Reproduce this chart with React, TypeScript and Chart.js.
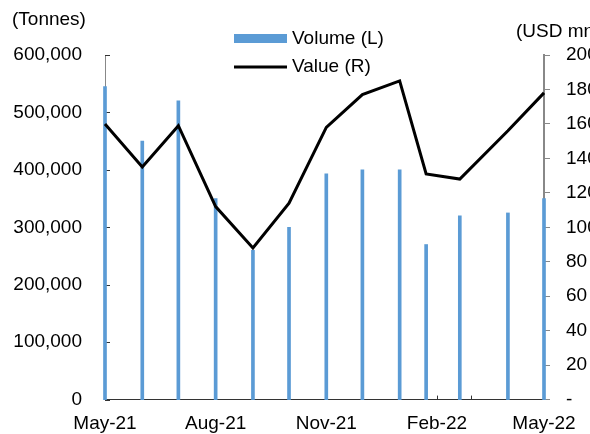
import React, { useEffect, useRef } from 'react';
import { Chart, registerables } from 'chart.js';

Chart.register(...registerables);

// ---- Data ----
const dates = [
  '2021-05-01', '2021-06-01', '2021-07-01', '2021-08-01', '2021-09-01', '2021-10-01',
  '2021-11-01', '2021-12-01', '2022-01-01', '2022-01-23', '2022-02-20', '2022-04-01', '2022-05-01',
];
const volume = [545000, 450000, 520000, 350000, 260000, 300000, 393000, 400000, 400000, 270000, 320000, 325000, 350000];
const value = [160, 135, 159, 112, 88, 114, 158, 177, 185, 131, 128, 156, 178];

const tickDates = ['2021-05-01', '2021-08-01', '2021-11-01', '2022-02-01', '2022-05-01'];
const tickLabels = ['May-21', 'Aug-21', 'Nov-21', 'Feb-22', 'May-22'];
const monthStarts = [
  '2021-05-01', '2021-06-01', '2021-07-01', '2021-08-01', '2021-09-01', '2021-10-01', '2021-11-01',
  '2021-12-01', '2022-01-01', '2022-02-01', '2022-03-01', '2022-04-01', '2022-05-01',
];
const leftTicks = [0, 100000, 200000, 300000, 400000, 500000, 600000];
const rightTicks = [0, 20, 40, 60, 80, 100, 120, 140, 160, 180, 200];

const seriesNames = ['Volume (L)', 'Value (R)'];
const leftTitle = '(Tonnes)';
const rightTitle = '(USD mn)';

const ORIGIN = Date.UTC(2021, 4, 1);
const dayOf = (s: string) => (Date.parse(s + 'T00:00:00Z') - ORIGIN) / 86400000;

const FONT_FAMILY = '"Liberation Sans", Arial, sans-serif';
const FONT_SIZE = 19;
const BLUE = '#5B9BD5';

const extrasPlugin = {
  id: 'extras',
  beforeDatasetsDraw(chart: any) {
    const ctx = chart.ctx;
    const x = chart.scales.x;
    const y = chart.scales.y;
    ctx.save();
    ctx.strokeStyle = '#333';
    ctx.lineWidth = 1;
    monthStarts.forEach((d) => {
      const px = Math.round(x.getPixelForValue(dayOf(d))) + 0.5;
      ctx.beginPath();
      ctx.moveTo(px, y.bottom);
      ctx.lineTo(px, y.bottom - 4);
      ctx.stroke();
    });
    leftTicks.forEach((v) => {
      const py = Math.round(y.getPixelForValue(v)) + 0.5;
      ctx.beginPath();
      ctx.moveTo(x.left, py);
      ctx.lineTo(x.left + 5, py);
      ctx.stroke();
    });
    ctx.restore();
  },
  afterDraw(chart: any) {
    const ctx = chart.ctx;
    ctx.save();
    ctx.font = `${FONT_SIZE}px ${FONT_FAMILY}`;
    ctx.fillStyle = '#000';
    ctx.textBaseline = 'middle';
    ctx.textAlign = 'left';
    ctx.fillText(leftTitle, 12, 20);
    ctx.fillText(rightTitle, 516, 32);

    const ds = chart.data.datasets;
    ctx.fillStyle = ds[0].backgroundColor;
    ctx.fillRect(234, 34, 53, 9);
    ctx.strokeStyle = ds[1].borderColor;
    ctx.lineWidth = 3;
    ctx.beginPath();
    ctx.moveTo(234, 67);
    ctx.lineTo(287, 67);
    ctx.stroke();
    ctx.fillStyle = '#000';
    ctx.fillText(ds[0].label, 292, 39);
    ctx.fillText(ds[1].label, 292, 67);
    ctx.restore();
  },
};

export default function App() {
  const ref = useRef<HTMLCanvasElement | null>(null);

  useEffect(() => {
    if (!ref.current) return;
    const font = { family: FONT_FAMILY, size: FONT_SIZE };
    const chart = new Chart(ref.current, {
      type: 'bar',
      data: {
        datasets: [
          {
            type: 'bar',
            label: seriesNames[0],
            data: dates.map((d, i) => ({ x: dayOf(d), y: volume[i] })),
            backgroundColor: BLUE,
            barThickness: 3,
            yAxisID: 'y',
            order: 2,
            clip: false,
          } as any,
          {
            type: 'line',
            label: seriesNames[1],
            data: dates.map((d, i) => ({ x: dayOf(d), y: value[i] })),
            borderColor: '#000000',
            backgroundColor: '#000000',
            borderWidth: 3,
            pointRadius: 0,
            tension: 0,
            yAxisID: 'y1',
            order: 1,
            clip: false,
          } as any,
        ],
      },
      options: {
        responsive: false,
        animation: false,
        devicePixelRatio: 1,
        layout: { padding: { top: 55, left: 0, right: 0, bottom: 0 } },
        plugins: { legend: { display: false }, tooltip: { enabled: false } },
        scales: {
          x: {
            type: 'linear',
            offset: false,
            min: 0,
            max: dayOf(monthStarts[monthStarts.length - 1]),
            afterBuildTicks: (s: any) => {
              s.ticks = tickDates.map((d) => ({ value: dayOf(d) }));
            },
            ticks: {
              autoSkip: false,
              maxRotation: 0,
              padding: 13,
              color: '#000',
              font,
              callback: (v: any) => {
                const i = tickDates.findIndex((d) => dayOf(d) === v);
                return i >= 0 ? tickLabels[i] : '';
              },
            },
            grid: { display: false, drawTicks: false, offset: false },
            border: { display: true, color: '#333', width: 1 },
            afterFit: (s: any) => {
              s.height = 34;
            },
          },
          y: {
            position: 'left',
            min: 0,
            max: 600000,
            afterBuildTicks: (s: any) => {
              s.ticks = leftTicks.map((v) => ({ value: v }));
            },
            ticks: {
              padding: 23,
              color: '#000',
              font,
              callback: (v: any) => Number(v).toLocaleString('en-US'),
            },
            grid: { display: false, drawTicks: false },
            border: { display: true, color: '#888', width: 1 },
            afterFit: (s: any) => {
              s.width = 105;
            },
          },
          y1: {
            position: 'right',
            min: 0,
            max: 200,
            afterBuildTicks: (s: any) => {
              s.ticks = rightTicks.map((v) => ({ value: v }));
            },
            ticks: {
              padding: 16,
              color: '#000',
              font,
              callback: (v: any) => (Number(v) === 0 ? '-' : String(v)),
            },
            grid: { display: true, drawOnChartArea: false, drawTicks: true, tickLength: 6, color: '#888', lineWidth: 1 },
            border: { display: true, color: '#888', width: 2 },
            afterFit: (s: any) => {
              s.width = 46;
            },
          },
        },
      } as any,
      plugins: [extrasPlugin],
    });
    return () => chart.destroy();
  }, []);

  return (
    <div style={{ position: 'fixed', left: 0, top: 0, width: 590, height: 434, background: '#fff' }}>
      <canvas ref={ref} width={590} height={434} style={{ display: 'block' }} />
    </div>
  );
}
